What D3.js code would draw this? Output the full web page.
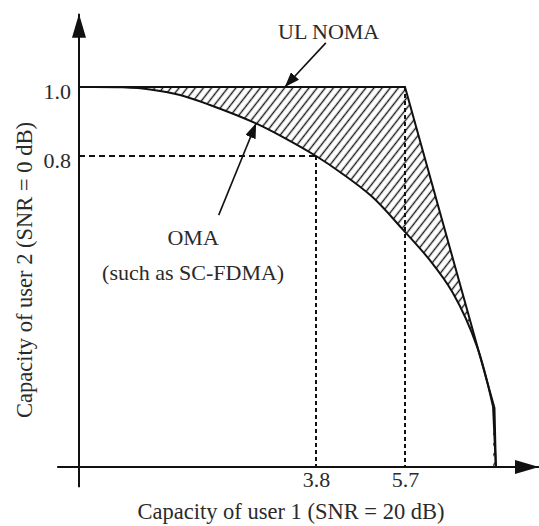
<!DOCTYPE html>
<html>
<head>
<meta charset="utf-8">
<script src="https://cdn.jsdelivr.net/npm/d3@7"></script>
<style>
  body { margin: 0; background: #fff; }
  svg text { font-family: "Liberation Serif", "Times New Roman", serif; fill: #2a2a2a; }
</style>
</head>
<body>
<svg id="chart" width="539" height="526"></svg>
<script>
// tick values on the axes
const xTicks = [3.8, 5.7]
const yTicks = [0.8, 1.0]

// OMA (such as SC-FDMA) boundary
const omaX = [0, 0.70, 1.14, 1.62, 2.10, 2.82, 3.30, 3.8, 4.31, 5.0, 5.66, 6.23, 6.72, 7.24, 7.58, 7.64]
const omaY = [1.0, 0.999, 0.993, 0.977, 0.948, 0.896, 0.852, 0.8, 0.759, 0.695, 0.61, 0.532, 0.448, 0.309, 0.155, 0]

// UL NOMA boundary corners
const nomaX = [0, 5.7, 7.61, 7.64]
const nomaY = [1.0, 1.0, 0.152, 0]

// corner points marked with dashed guides
const guideX = [3.8, 5.7]
const guideY = [0.8, 1.0]

const svg = d3.select('#chart')

// schematic axes: not to scale, so piecewise linear scales
const xScale = d3.scaleLinear().domain([0, 3.8, 5.7]).range([79, 316, 405])
const yScale = d3.scaleLinear().domain([0, 0.8, 1.0]).range([467, 156, 87])

const oma = omaX.map((x, i) => ({x: x, y: omaY[i]}))
const noma = nomaX.map((x, i) => ({x: x, y: nomaY[i]}))

let defs = svg.append('defs')

defs.append('pattern')
  .attr('id', 'hatch')
  .attr('patternUnits', 'userSpaceOnUse')
  .attr('width', 6.4)
  .attr('height', 6.4)
  .attr('patternTransform', 'rotate(38)')
.append('line')
  .attr('x1', 3.2).attr('y1', -1)
  .attr('x2', 3.2).attr('y2', 7.4)
  .attr('stroke', '#1a1a1a')
  .attr('stroke-width', 1.4)

function arrowMarker(id, len, half){
  defs.append('marker')
    .attr('id', id)
    .attr('markerUnits', 'userSpaceOnUse')
    .attr('viewBox', `0 0 ${len} ${half * 2}`)
    .attr('markerWidth', len)
    .attr('markerHeight', half * 2)
    .attr('refX', len)
    .attr('refY', half)
    .attr('orient', 'auto')
  .append('path')
    .attr('d', `M0,0L${len},${half}L0,${half * 2}Z`)
    .attr('fill', '#111')
}
arrowMarker('axisHead', 24, 7)
arrowMarker('noteHead', 15, 5.5)

// hatched gap between the two regions
let nomaArea = d3.area()
  .x(d => xScale(d.x))
  .y0(yScale(0))
  .y1(d => yScale(d.y))

svg.append('path')
  .datum(noma)
  .attr('d', nomaArea)
  .attr('fill', 'url(#hatch)')

let smooth = oma.slice(0, -1)
let tail = oma.slice(-2)

let omaArea = d3.area()
  .curve(d3.curveCatmullRom)
  .x(d => xScale(d.x))
  .y0(yScale(0))
  .y1(d => yScale(d.y))

svg.append('path')
  .datum(smooth)
  .attr('d', omaArea)
  .attr('fill', '#fff')

// dashed guides
let guides = svg.append('g')
  .attr('stroke', '#111')
  .attr('stroke-width', 2)
  .attr('fill', 'none')

guides.append('line')
  .attr('x1', xScale(0)).attr('y1', yScale(guideY[0]))
  .attr('x2', xScale(guideX[0])).attr('y2', yScale(guideY[0]))
  .attr('stroke-dasharray', '6,4')

guideX.forEach((gx, i) => {
  guides.append('line')
    .attr('x1', xScale(gx)).attr('y1', yScale(guideY[i]))
    .attr('x2', xScale(gx)).attr('y2', yScale(0))
    .attr('stroke-dasharray', '4,3')
})

// boundaries
let smoothLine = d3.line().curve(d3.curveCatmullRom).x(d => xScale(d.x)).y(d => yScale(d.y))
let straightLine = d3.line().x(d => xScale(d.x)).y(d => yScale(d.y))

svg.append('path').datum(smooth).attr('d', smoothLine)
  .attr('fill', 'none').attr('stroke', '#111').attr('stroke-width', 2)
svg.append('path').datum(tail).attr('d', straightLine)
  .attr('fill', 'none').attr('stroke', '#111').attr('stroke-width', 2)
svg.append('path').datum(noma).attr('d', straightLine)
  .attr('fill', 'none').attr('stroke', '#111').attr('stroke-width', 2)

// axes with arrow heads
svg.append('line')
  .attr('x1', xScale(-0.35)).attr('y1', yScale(0))
  .attr('x2', xScale(8.56)).attr('y2', yScale(0))
  .attr('stroke', '#111').attr('stroke-width', 2)
  .attr('marker-end', 'url(#axisHead)')

svg.append('line')
  .attr('x1', xScale(0)).attr('y1', yScale(-0.052))
  .attr('x2', xScale(0)).attr('y2', yScale(1.212))
  .attr('stroke', '#111').attr('stroke-width', 2)
  .attr('marker-end', 'url(#axisHead)')

let xAxis = d3.axisBottom(xScale)
  .tickValues(xTicks)
  .tickSize(0)
  .tickPadding(4)
  .tickFormat(d3.format('.1f'))

let gx = svg.append('g')
  .attr('transform', `translate(0,${yScale(0)})`)
  .call(xAxis)
gx.select('.domain').remove()
gx.selectAll('text').attr('font-size', 22).attr('font-family', null).attr('fill', null)

let yAxis = d3.axisLeft(yScale)
  .tickValues(yTicks)
  .tickSize(0)
  .tickPadding(8)
  .tickFormat(d3.format('.1f'))

let gy = svg.append('g')
  .attr('transform', `translate(${xScale(0)},0)`)
  .call(yAxis)
gy.select('.domain').remove()
gy.selectAll('text').attr('font-size', 22).attr('font-family', null).attr('fill', null).attr('dy', '0.5em')

// axis titles
svg.append('text')
  .attr('x', 291).attr('y', 519)
  .attr('text-anchor', 'middle')
  .attr('font-size', 22.5)
  .text('Capacity of user 1 (SNR = 20 dB)')

svg.append('text')
  .attr('transform', 'translate(32,270) rotate(-90)')
  .attr('text-anchor', 'middle')
  .attr('font-size', 22.5)
  .text('Capacity of user 2 (SNR = 0 dB)')

// annotations
svg.append('line')
  .attr('x1', xScale(4.01)).attr('y1', yScale(1.128))
  .attr('x2', xScale(3.30)).attr('y2', yScale(1.0))
  .attr('stroke', '#111').attr('stroke-width', 1.6)
  .attr('marker-end', 'url(#noteHead)')

svg.append('text')
  .attr('x', xScale(4.07)).attr('y', yScale(1.14))
  .attr('text-anchor', 'middle')
  .attr('font-size', 22)
  .text('UL NOMA')

svg.append('line')
  .attr('x1', xScale(2.24)).attr('y1', yScale(0.648))
  .attr('x2', xScale(2.84)).attr('y2', yScale(0.895))
  .attr('stroke', '#111').attr('stroke-width', 1.6)
  .attr('marker-end', 'url(#noteHead)')

svg.append('text')
  .attr('x', xScale(1.83)).attr('y', yScale(0.571))
  .attr('text-anchor', 'middle')
  .attr('font-size', 22)
  .text('OMA')

svg.append('text')
  .attr('x', xScale(1.83)).attr('y', yScale(0.481))
  .attr('text-anchor', 'middle')
  .attr('font-size', 22)
  .text('(such as SC-FDMA)')
</script>
</body>
</html>
